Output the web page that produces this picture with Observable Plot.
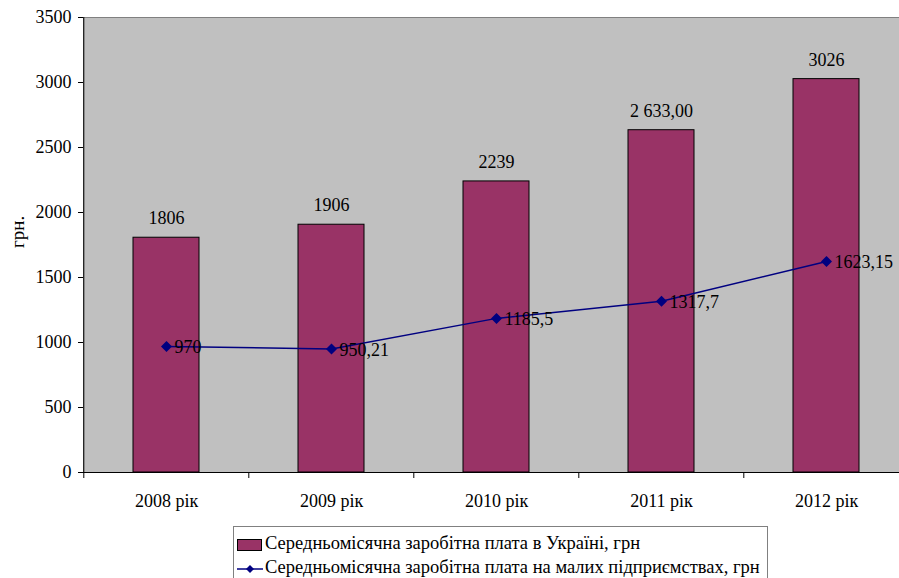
<!DOCTYPE html>
<html>
<head>
<meta charset="utf-8">
<script src="https://cdn.jsdelivr.net/npm/d3@7"></script>
<script src="https://cdn.jsdelivr.net/npm/@observablehq/plot@0.6"></script>
<style>
  body { margin: 0; background: #fff; font-family: "Times New Roman", "Liberation Serif", "DejaVu Serif", serif; }
  #wrap { position: relative; width: 899px; height: 578px; overflow: hidden; }
  #chart svg, #chart svg text { font-family: "Times New Roman", "Liberation Serif", "DejaVu Serif", serif !important; }
  #legend { position: absolute; left: 233px; top: 526px; width: 535px; height: 60px; border: 1px solid #808080; box-sizing: border-box; font-size: 18.5px; color: #000; }
  .row { position: absolute; left: 3px; height: 22px; line-height: 22px; white-space: nowrap; }
  .row svg { vertical-align: middle; margin-right: 2px; }
</style>
</head>
<body>
<div id="wrap">
  <div id="chart"></div>
  <div id="legend"></div>
</div>
<script>
const years = ["2008 рік", "2009 рік", "2010 рік", "2011 рік", "2012 рік"];
const ukraineWage = [1806, 1906, 2239, 2633, 3026];
const ukraineLabels = ["1806", "1906", "2239", "2 633,00", "3026"];
const smallWage = [970, 950.21, 1185.5, 1317.7, 1623.15];
const smallLabels = ["970", "950,21", "1185,5", "1317,7", "1623,15"];
const yTicks = [0, 500, 1000, 1500, 2000, 2500, 3000, 3500];
const seriesNames = ["Середньомісячна заробітна плата в Україні, грн", "Середньомісячна заробітна плата на малих підприємствах, грн"];

const barColor = "#993366";
const lineColor = "#000080";
const FONT = '"Times New Roman", "Liberation Serif", "DejaVu Serif", serif';
const FS = 18;

const bars = years.map((y, i) => ({year: y, value: ukraineWage[i], label: ukraineLabels[i]}));
const line = years.map((y, i) => ({year: y, value: smallWage[i], label: smallLabels[i]}));

const left = 83, right = 910;
const step = (right - left) / years.length;
const yPx = 455 / 3500;

const chart = Plot.plot({
  width: 899,
  height: 520,
  marginLeft: left,
  marginRight: 0,
  marginTop: 17,
  marginBottom: 48,
  style: {fontFamily: FONT, fontSize: FS + "px", color: "#000", background: "transparent", overflow: "hidden"},
  x: {domain: years, range: [left, right], paddingInner: 0.6, paddingOuter: 0.3},
  y: {domain: [0, 3500]},
  marks: [
    Plot.frame({fill: "#C0C0C0", stroke: "#808080"}),
    Plot.barY(bars, {x: "year", y: "value", fill: barColor, stroke: "#000", strokeWidth: 1}),
    Plot.text(bars, {x: "year", y: "value", text: "label", dy: -19, fill: "#000", fontSize: FS, fontFamily: FONT}),
    Plot.line(line, {x: "year", y: "value", stroke: lineColor, strokeWidth: 1.5}),
    Plot.dot(line, {x: "year", y: "value", symbol: "diamond2", r: 4, fill: lineColor, stroke: lineColor}),
    Plot.text(line, {x: "year", y: "value", text: "label", dx: 8, dy: 1, textAnchor: "start", fill: "#000", fontSize: FS, fontFamily: FONT}),
    Plot.ruleY([0], {stroke: "#000", strokeWidth: 1}),
    Plot.ruleX([years[0]], {dx: -step / 2, stroke: "#000", strokeWidth: 1}),
    Plot.ruleX(years, {x: d => d, dx: -step / 2, y1: 0, y2: -6 / yPx, stroke: "#000", strokeWidth: 1}),
    Plot.axisY({ticks: yTicks, tickSize: 5, tickPadding: 7, label: null, tickFormat: d => String(d), stroke: "#000", fontSize: FS, fontFamily: FONT}),
    Plot.axisX({tickSize: 0, tickPadding: 22, label: null, fontSize: FS, fontFamily: FONT}),
    Plot.text(["грн."], {frameAnchor: "left", dx: -66, dy: 3, rotate: -90, fill: "#000", fontSize: 19, fontFamily: FONT})
  ]
});
document.getElementById("chart").appendChild(chart);

const legend = document.getElementById("legend");
legend.innerHTML = `
  <div class="row" style="top:5px"><svg width="26" height="14"><rect x="0.5" y="1.5" width="24" height="11" fill="${barColor}" stroke="#000"/></svg>${seriesNames[0]}</div>
  <div class="row" style="top:29px"><svg width="26" height="14"><line x1="0" y1="7" x2="26" y2="7" stroke="${lineColor}" stroke-width="1.5"/><path d="M13,3 L17,7 L13,11 L9,7 Z" fill="${lineColor}"/></svg>${seriesNames[1]}</div>`;
</script>
</body>
</html>
